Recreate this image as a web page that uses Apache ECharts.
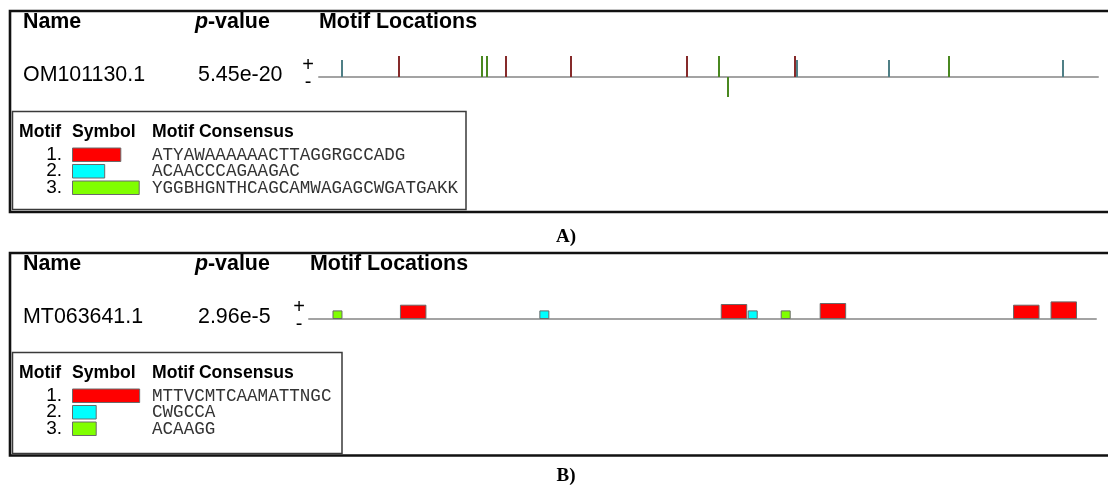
<!DOCTYPE html>
<html>
<head>
<meta charset="utf-8">
<script src="https://cdn.jsdelivr.net/npm/echarts@6/dist/echarts.min.js"></script>
<style>
html,body{margin:0;padding:0;background:#fff;}
#chart{width:1108px;height:486px;}
</style>
</head>
<body>
<div id="chart"></div>
<script>
// ---------- data ----------
const headers = ['Name', '-value', 'Motif Locations'];
const legendHeaders = ['Motif', 'Symbol', 'Motif Consensus'];

// Panel A
const seqNameA = 'OM101130.1';
const pValueA = '5.45e-20';
const seqLengthA = 8000;
const motifConsensusA = ['ATYAWAAAAAACTTAGGRGCCADG', 'ACAACCCAGAAGAC', 'YGGBHGNTHCAGCAMWAGAGCWGATGAKK'];
const motifLenA = [21, 14, 29];
const siteStartA = [225, 812, 1660, 1714, 1908, 2576, 3767, 4096, 4188, 4876, 4902, 5847, 6458, 7633];
const siteMotifA = [2, 1, 3, 3, 1, 1, 1, 3, 3, 1, 2, 2, 3, 2];
const siteStrandA = [1, 1, 1, 1, 1, 1, 1, 1, -1, 1, 1, 1, 1, 1];
const siteScoreA = [17, 21, 21, 21, 21, 21, 21, 21, 20, 21, 17, 17, 21, 17];

// Panel B
const seqNameB = 'MT063641.1';
const pValueB = '2.96e-5';
const seqLengthB = 525;
const motifConsensusB = ['MTTVCMTCAAMATTNGC', 'CWGCCA', 'ACAAGG'];
const motifLenB = [17, 6, 6];
const siteStartB = [16, 61, 154, 275, 293, 315, 341, 470, 495];
const siteMotifB = [3, 1, 2, 1, 2, 3, 1, 1, 1];
const siteStrandB = [1, 1, 1, 1, 1, 1, 1, 1, 1];
const siteScoreB = [7.6, 13.3, 7.6, 14, 7.6, 7.6, 15, 13.3, 16.6];

const panelLabels = ['A)', 'B)'];

// ---------- styles ----------
const motifColors = ['#ff0000', '#00ffff', '#80ff00'];
const thinColors = ['#862a2a', '#4f7f86', '#4a8820'];
const SANS = 'Liberation Sans, Arial, sans-serif';
const MONO = 'Liberation Mono, Courier New, monospace';

function buildSites(starts, motifs, strands, scores, lens) {
  return starts.map((s, i) => [s, s + lens[motifs[i] - 1], scores[i] * strands[i], motifs[i] - 1]);
}
const dataA = buildSites(siteStartA, siteMotifA, siteStrandA, siteScoreA, motifLenA);
const dataB = buildSites(siteStartB, siteMotifB, siteStrandB, siteScoreB, motifLenB);

function renderItem(params, api) {
  const s = api.value(0), e = api.value(1), h = api.value(2), m = api.value(3);
  const p0 = api.coord([s, 0]);
  const p1 = api.coord([e, h]);
  let x = p0[0], w = p1[0] - p0[0];
  const y = Math.min(p0[1], p1[1]);
  const hh = Math.abs(p1[1] - p0[1]);
  if (w < 4) {
    const cx = (p0[0] + p1[0]) / 2;
    w = 2; x = Math.round(cx) - 1;
    return {type: 'rect', shape: {x: x, y: y, width: w, height: hh}, style: {fill: thinColors[m]}};
  }
  return {type: 'rect', shape: {x: x, y: y, width: w, height: hh},
    style: {fill: motifColors[m], stroke: '#6a6a6a', lineWidth: 1}};
}

function txt(text, x, y, font, opts) {
  opts = opts || {};
  return {
    type: 'text', x: x, y: y, silent: true,
    style: {
      text: text, font: font, fill: opts.fill || '#000',
      align: opts.align || 'left', verticalAlign: 'middle',
      textAlign: opts.align || 'left', textVerticalAlign: 'middle'
    }
  };
}

function panelGraphics(dy, name, pval, consensus, lens, symScale, legendRight, labelY, label) {
  const g = [];
  g.push({type: 'rect', shape: {x: 10, y: 11 + dy, width: 1110, height: 201 + (dy ? 1.5 : 0)},
    style: {fill: 'none', stroke: '#111', lineWidth: 2.6}, silent: true});
  g.push(txt('Name', 23, 22.5 + dy, 'bold 21.4px ' + SANS));
  g.push(txt('p', 195, 22.5 + dy, 'italic bold 21.4px ' + SANS));
  g.push(txt(headers[1], 208, 22.5 + dy, 'bold 21.4px ' + SANS));
  g.push(txt(headers[2], dy ? 310 : 319, 22.5 + dy, 'bold 21.4px ' + SANS));
  g.push(txt(name, 23, 75.5 + dy, '21.4px ' + SANS));
  g.push(txt(pval, 198, 75.5 + dy, '21.4px ' + SANS));
  g.push(txt('+', dy ? 299 : 308, 65 + dy, '20px ' + SANS, {align: 'center'}));
  g.push(txt('-', dy ? 299 : 308, 82 + dy, '20px ' + SANS, {align: 'center'}));
  const ly = dy ? dy - 1 : 0;
  g.push({type: 'rect', shape: {x: 12.5, y: 111.5 + ly, width: legendRight - 12.5, height: 98 + (dy ? 3 : 0)},
    style: {fill: '#fff', stroke: '#3a3a3a', lineWidth: 1.5}, silent: true});
  g.push(txt(legendHeaders[0], 19, 132 + ly, 'bold 17.6px ' + SANS));
  g.push(txt(legendHeaders[1], 72, 132 + ly, 'bold 17.6px ' + SANS));
  g.push(txt(legendHeaders[2], 152, 132 + ly, 'bold 17.6px ' + SANS));
  const rowY = [154.5, 171, 187.5];
  for (let i = 0; i < 3; i++) {
    const yy = rowY[i] + ly;
    g.push(txt((i + 1) + '.', 62, yy, '19px ' + SANS, {align: 'right'}));
    g.push({type: 'rect', shape: {x: 72.5, y: yy - 6.5, width: lens[i] * symScale, height: 13.5},
      style: {fill: motifColors[i], stroke: '#6a6a6a', lineWidth: 1}, silent: true});
    g.push(txt(consensus[i], 152, yy + 0.5, '17.6px ' + MONO, {fill: '#333'}));
  }
  g.push(txt(label, 566, labelY, 'bold 19px Liberation Serif, Times New Roman, serif', {align: 'center'}));
  return g;
}

const graphics = []
  .concat(panelGraphics(0, seqNameA, pValueA, motifConsensusA, motifLenA, 2.3, 466, 237.5, panelLabels[0]))
  .concat(panelGraphics(242, seqNameB, pValueB, motifConsensusB, motifLenB, 3.95, 342, 476.5, panelLabels[1]));

const chart = echarts.init(document.getElementById('chart'), null, {renderer: 'canvas'});
const axisX = (len, idx) => ({
  type: 'value', gridIndex: idx, min: 0, max: len,
  axisLine: {show: true, onZero: true, lineStyle: {color: '#a3a3a3', width: 2}},
  axisTick: {show: false}, axisLabel: {show: false}, splitLine: {show: false}
});
const axisY = (idx) => ({
  type: 'value', gridIndex: idx, min: -30, max: 30,
  axisLine: {show: false}, axisTick: {show: false}, axisLabel: {show: false}, splitLine: {show: false}
});
chart.setOption({
  animation: false,
  backgroundColor: '#fff',
  grid: [
    {left: 319, top: 47, width: 779, height: 60},
    {left: 309, top: 288.5, width: 787, height: 60}
  ],
  xAxis: [axisX(seqLengthA, 0), axisX(seqLengthB, 1)],
  yAxis: [axisY(0), axisY(1)],
  series: [
    {type: 'custom', xAxisIndex: 0, yAxisIndex: 0, renderItem: renderItem, data: dataA, z: 5},
    {type: 'custom', xAxisIndex: 1, yAxisIndex: 1, renderItem: renderItem, data: dataB, z: 5}
  ],
  graphic: {elements: graphics}
});
</script>
</body>
</html>
